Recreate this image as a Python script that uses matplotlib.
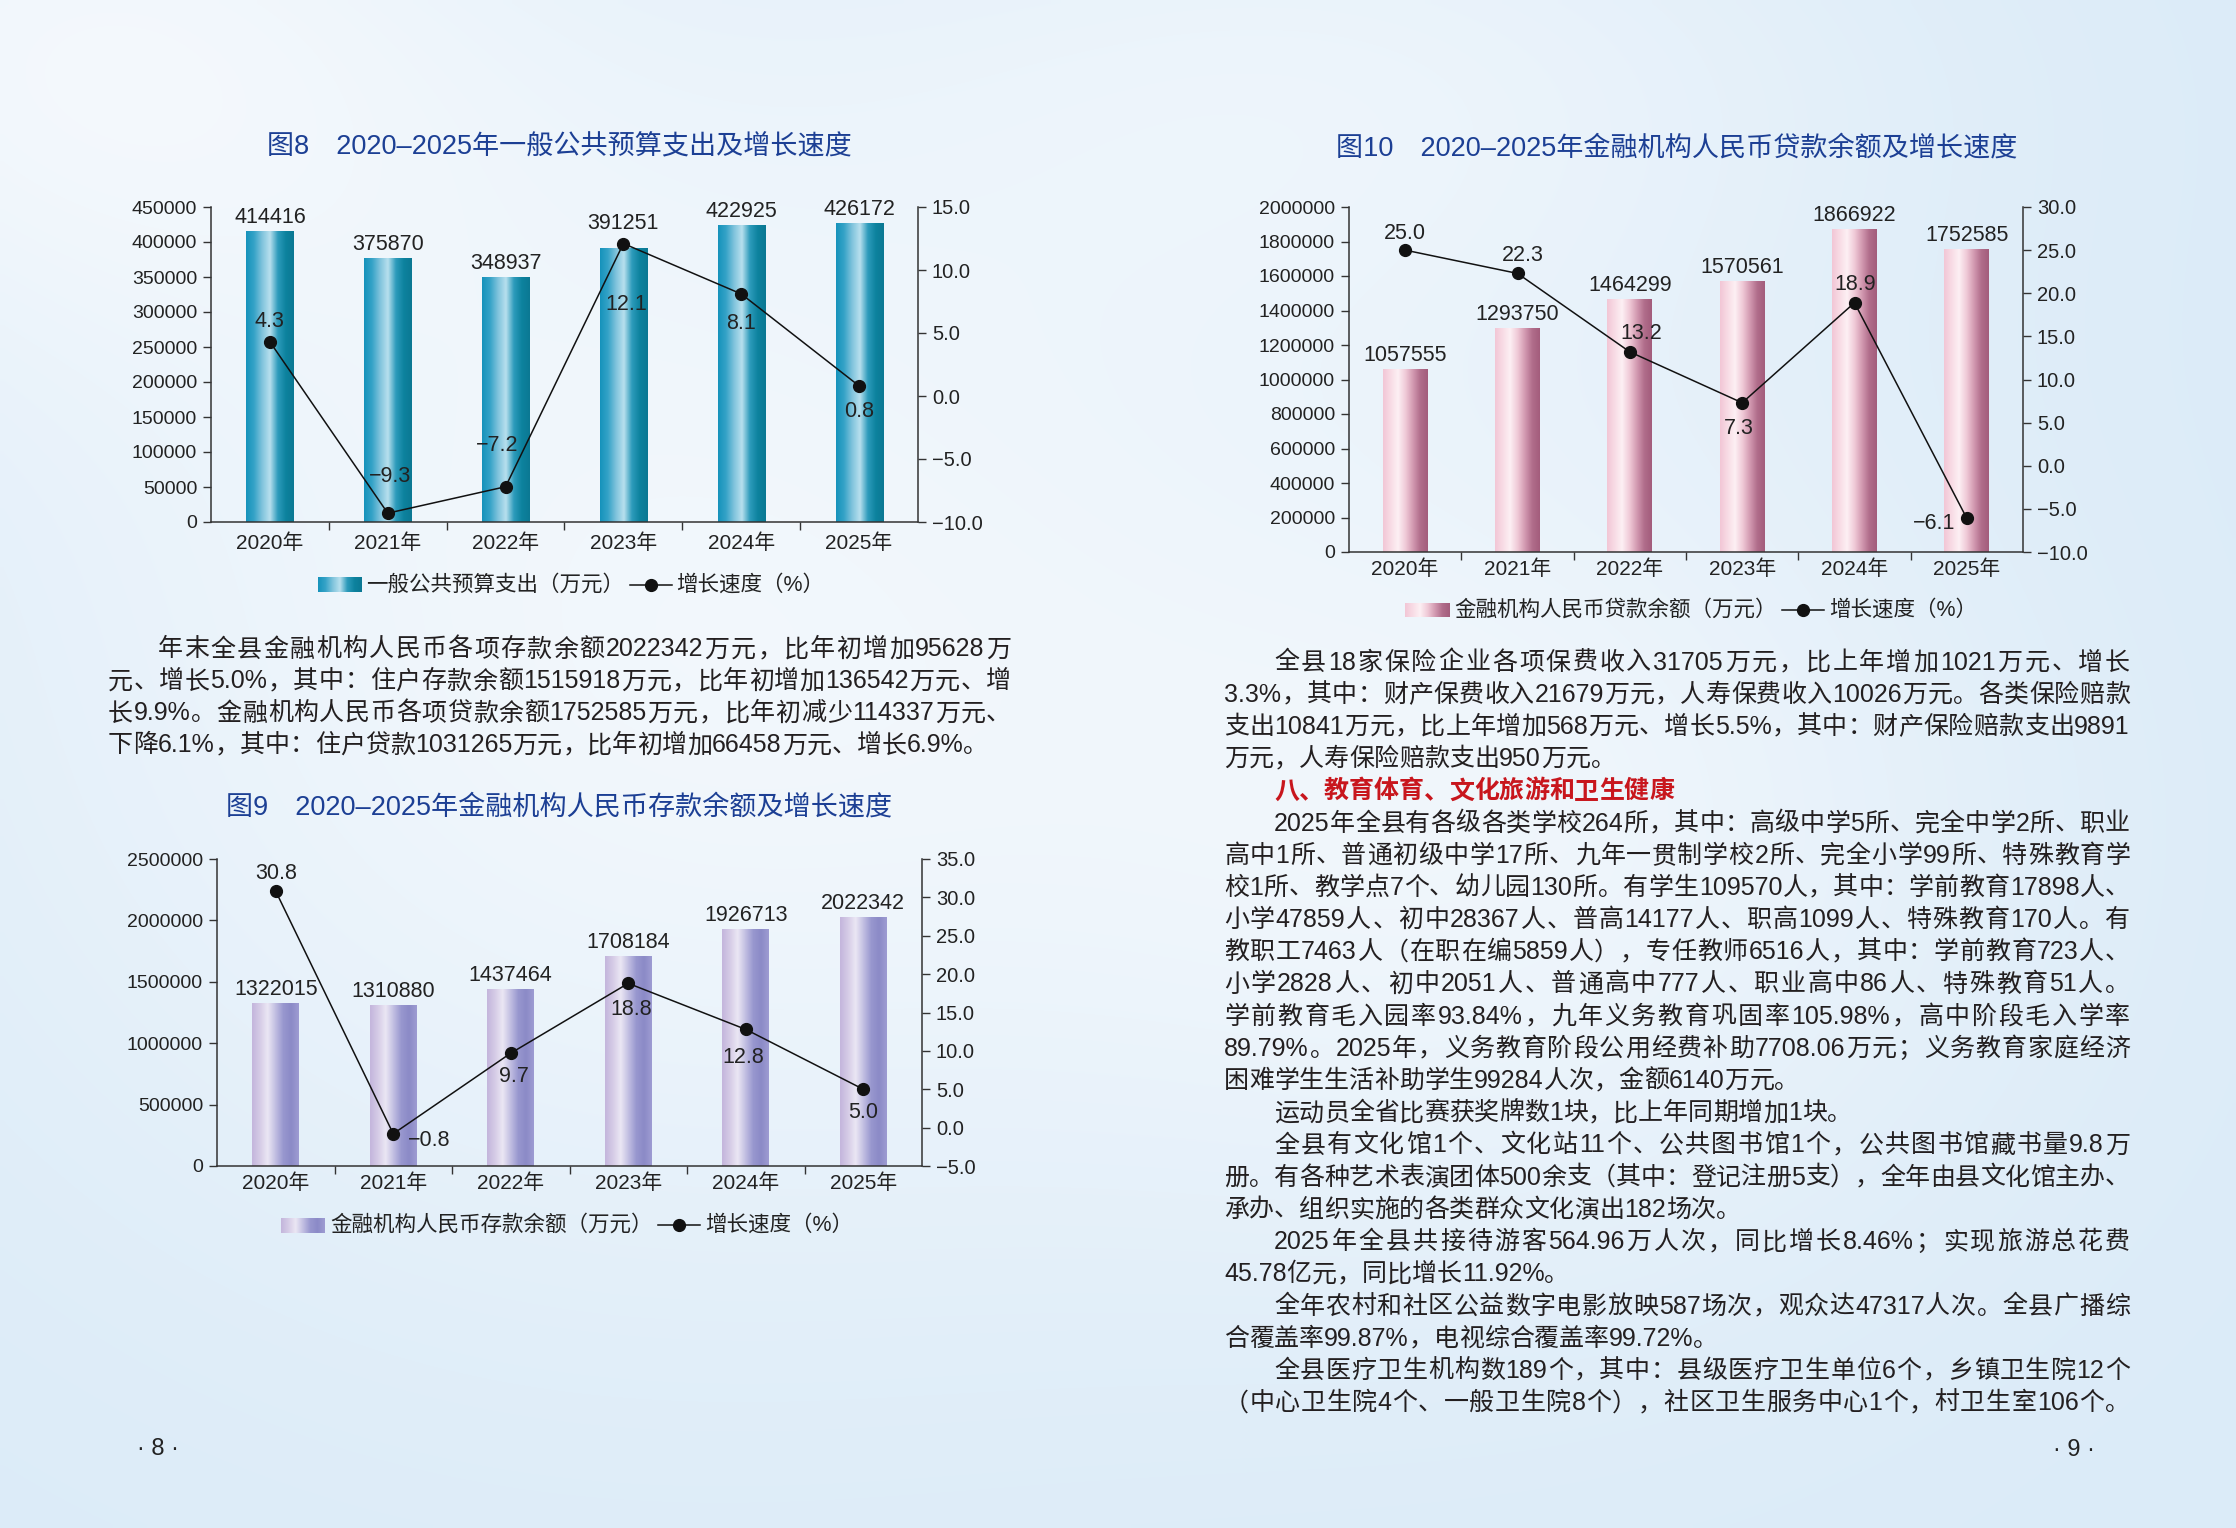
import numpy as np
import matplotlib
matplotlib.use('Agg')
import matplotlib.pyplot as plt
from matplotlib.font_manager import FontProperties
from matplotlib.colors import LinearSegmentedColormap
from matplotlib.lines import Line2D
from matplotlib.ticker import FuncFormatter

FAMILY = ['Liberation Sans', 'Noto Sans CJK SC', 'DejaVu Sans']
plt.rcParams['font.family'] = FAMILY

W, H, DPI = 2236, 1528, 100

# ------------------------------------------------------------------ data
years = ['2020年', '2021年', '2022年', '2023年', '2024年', '2025年']

fig8_title = '图8　2020–2025年一般公共预算支出及增长速度'
fig8_values = [414416, 375870, 348937, 391251, 422925, 426172]
fig8_growth = [4.3, -9.3, -7.2, 12.1, 8.1, 0.8]
fig8_bar_label = '一般公共预算支出（万元）'

fig9_title = '图9　2020–2025年金融机构人民币存款余额及增长速度'
fig9_values = [1322015, 1310880, 1437464, 1708184, 1926713, 2022342]
fig9_growth = [30.8, -0.8, 9.7, 18.8, 12.8, 5.0]
fig9_bar_label = '金融机构人民币存款余额（万元）'

fig10_title = '图10　2020–2025年金融机构人民币贷款余额及增长速度'
fig10_values = [1057555, 1293750, 1464299, 1570561, 1866922, 1752585]
fig10_growth = [25.0, 22.3, 13.2, 7.3, 18.9, -6.1]
fig10_bar_label = '金融机构人民币贷款余额（万元）'

growth_label = '增长速度（%）'

# body text: (text, indent, justify)
left_para = [
    ('年末全县金融机构人民币各项存款余额2022342万元，比年初增加95628万', True, True),
    ('元、增长5.0%，其中：住户存款余额1515918万元，比年初增加136542万元、增', False, True),
    ('长9.9%。金融机构人民币各项贷款余额1752585万元，比年初减少114337万元、', False, True),
    ('下降6.1%，其中：住户贷款1031265万元，比年初增加66458万元、增长6.9%。', False, False),
]
right_para = [
    ('全县18家保险企业各项保费收入31705万元，比上年增加1021万元、增长', True, True),
    ('3.3%，其中：财产保费收入21679万元，人寿保费收入10026万元。各类保险赔款', False, True),
    ('支出10841万元，比上年增加568万元、增长5.5%，其中：财产保险赔款支出9891', False, True),
    ('万元，人寿保险赔款支出950万元。', False, False),
    ('八、教育体育、文化旅游和卫生健康', True, False),
    ('2025年全县有各级各类学校264所，其中：高级中学5所、完全中学2所、职业', True, True),
    ('高中1所、普通初级中学17所、九年一贯制学校2所、完全小学99所、特殊教育学', False, True),
    ('校1所、教学点7个、幼儿园130所。有学生109570人，其中：学前教育17898人、', False, True),
    ('小学47859人、初中28367人、普高14177人、职高1099人、特殊教育170人。有', False, True),
    ('教职工7463人（在职在编5859人），专任教师6516人，其中：学前教育723人、', False, True),
    ('小学2828人、初中2051人、普通高中777人、职业高中86人、特殊教育51人。', False, True),
    ('学前教育毛入园率93.84%，九年义务教育巩固率105.98%，高中阶段毛入学率', False, True),
    ('89.79%。2025年，义务教育阶段公用经费补助7708.06万元；义务教育家庭经济', False, True),
    ('困难学生生活补助学生99284人次，金额6140万元。', False, False),
    ('运动员全省比赛获奖牌数1块，比上年同期增加1块。', True, False),
    ('全县有文化馆1个、文化站11个、公共图书馆1个，公共图书馆藏书量9.8万', True, True),
    ('册。有各种艺术表演团体500余支（其中：登记注册5支），全年由县文化馆主办、', False, True),
    ('承办、组织实施的各类群众文化演出182场次。', False, False),
    ('2025年全县共接待游客564.96万人次，同比增长8.46%；实现旅游总花费', True, True),
    ('45.78亿元，同比增长11.92%。', False, False),
    ('全年农村和社区公益数字电影放映587场次，观众达47317人次。全县广播综', True, True),
    ('合覆盖率99.87%，电视综合覆盖率99.72%。', False, False),
    ('全县医疗卫生机构数189个，其中：县级医疗卫生单位6个，乡镇卫生院12个', True, True),
    ('（中心卫生院4个、一般卫生院8个），社区卫生服务中心1个，村卫生室106个。', False, True),
]
heading_index = 4
page_left = '· 8 ·'
page_right = '· 9 ·'

# ------------------------------------------------------------------ styles
teal_stops = ['#1592bb', '#35a3c7', '#7fc3dc', '#b8e0ee', '#2d9bbb', '#0d829e', '#0b7893']
purple_stops = ['#c3b5dc', '#d5cbe6', '#ebe7f4', '#c2bfe2', '#9897cf', '#8b8ac7', '#9e9cd2']
pink_stops = ['#f2c6d5', '#f8dbe5', '#fdf0f4', '#f0cbd8', '#d39ab1', '#b06d8b', '#a35c7c']

TEXT = '#222222'
AXIS = '#333333'
LABEL_SIZE = 15.5
TICK_SIZE = 14

fig = plt.figure(figsize=(W / DPI, H / DPI), dpi=DPI)
renderer = fig.canvas.get_renderer()

# background
bg = fig.add_axes([0, 0, 1, 1], zorder=-10)
yy, xx = np.mgrid[0:1:220j, 0:1:320j]
base = np.array([219, 235, 248]) / 255.0
white = np.array([247, 250, 253]) / 255.0
g = (0.80 * np.exp(-(((xx - 0.30) / 0.33) ** 2 + ((yy - 0.42) / 0.42) ** 2))
     + 0.55 * np.exp(-(((xx - 0.70) / 0.22) ** 2 + ((yy - 0.55) / 0.30) ** 2))
     + 0.70 * np.exp(-(((xx - 0.02) / 0.22) ** 2 + ((yy - 0.02) / 0.22) ** 2))
     + 0.45 * np.exp(-(((xx - 0.62) / 0.25) ** 2 + ((yy - 0.05) / 0.18) ** 2)))
g = np.clip(g, 0, 1)[..., None]
bg.imshow(base * (1 - g) + white * g, extent=[0, 1, 0, 1], aspect='auto',
          interpolation='bilinear')
bg.axis('off')


def px_rect(x0, y0, x1, y1):
    return [x0 / W, 1 - y1 / H, (x1 - x0) / W, (y1 - y0) / H]


def fmt_signed(v):
    return f'{v:.1f}'.replace('-', '\u2212')


def make_grad(stops):
    cmap = LinearSegmentedColormap.from_list('bar', stops)
    return cmap(np.linspace(0, 1, 256))[None, :, :]


def draw_chart(rect, values, growth, ymax, ystep, y2min, y2max, y2step, stops,
               g_off, v_off, xpad):
    ax = fig.add_axes(px_rect(*rect))
    ax.patch.set_alpha(0)
    xs = np.arange(len(years))
    grad = make_grad(stops)
    bars = ax.bar(xs, values, width=0.4, color='none', edgecolor='none', zorder=2)
    for b in bars:
        ax.imshow(grad, extent=[b.get_x(), b.get_x() + b.get_width(), 0, b.get_height()],
                  aspect='auto', interpolation='bilinear', zorder=2)
    ax.set_xlim(-0.5, len(years) - 0.5)
    ax.set_ylim(0, ymax)
    ax.set_yticks(np.arange(0, ymax + 1, ystep))
    ax.yaxis.set_major_formatter(FuncFormatter(lambda v, p: f'{int(round(v))}'))
    ax.set_xticks(xs)
    ax.set_xticklabels(years)
    ax.set_xticks(xs[:-1] + 0.5, minor=True)
    ax.tick_params(axis='x', which='major', length=0, pad=xpad, labelsize=LABEL_SIZE - 0.5,
                   labelcolor=TEXT)
    ax.tick_params(axis='x', which='minor', length=6, width=1, direction='out', color=AXIS)
    ax.tick_params(axis='y', length=6, width=1, direction='out', color=AXIS,
                   labelsize=TICK_SIZE, labelcolor=TEXT, pad=4)
    for s in ['top', 'right']:
        ax.spines[s].set_visible(False)
    for s in ['left', 'bottom']:
        ax.spines[s].set_color(AXIS)
        ax.spines[s].set_linewidth(1.1)
    for x, v, off in zip(xs, values, v_off):
        ax.annotate(f'{v}', (x, v), xytext=(0, off), textcoords='offset pixels',
                    ha='center', va='center', fontsize=LABEL_SIZE, color=TEXT, zorder=6)
    ax2 = ax.twinx()
    ax2.set_ylim(y2min, y2max)
    ax2.set_yticks(np.arange(y2min, y2max + 0.01, y2step))
    ax2.yaxis.set_major_formatter(FuncFormatter(lambda v, p: fmt_signed(v)))
    ax2.plot(xs, growth, color='#111111', lw=1.1, marker='o', ms=8.5, zorder=5)
    for s in ['top', 'left', 'bottom']:
        ax2.spines[s].set_visible(False)
    ax2.spines['right'].set_color(AXIS)
    ax2.spines['right'].set_linewidth(1.1)
    ax2.tick_params(axis='y', length=6, width=1, direction='out', color=AXIS,
                    labelsize=TICK_SIZE + 0.5, labelcolor=TEXT, pad=4)
    for x, gv, (dx, dy) in zip(xs, growth, g_off):
        ax2.annotate(fmt_signed(gv), (x, gv), xytext=(dx, dy), textcoords='offset pixels',
                     ha='center', va='center', fontsize=LABEL_SIZE, color=TEXT, zorder=7)
    return ax


def tw(s, fp):
    return renderer.get_text_width_height_descent(s, fp, ismath=False)[0]


def draw_title(cx, cy, s):
    fig.text(cx / W, 1 - cy / H, s, ha='center', va='center', fontsize=19.5,
             color='#1c3f94', fontweight='medium')


def draw_legend(cx, cy, stops, label1, label2):
    fp = FontProperties(family=FAMILY, size=LABEL_SIZE)
    sw, sh, ln, gap = 44, 15, 42, 5
    w1, w2 = tw(label1, fp), tw(label2, fp)
    total = sw + gap + w1 + gap + ln + gap + w2
    x = cx - total / 2
    sax = fig.add_axes([x / W, 1 - (cy + sh / 2) / H, sw / W, sh / H])
    sax.imshow(make_grad(stops), aspect='auto', extent=[0, 1, 0, 1], interpolation='bilinear')
    sax.axis('off')
    x += sw + gap
    fig.text(x / W, 1 - cy / H, label1, fontproperties=fp, ha='left', va='center', color=TEXT)
    x += w1 + gap
    yf = 1 - cy / H
    fig.add_artist(Line2D([x / W, (x + ln) / W], [yf, yf], transform=fig.transFigure,
                          color='#111111', lw=1.1))
    fig.add_artist(Line2D([(x + ln / 2) / W], [yf], transform=fig.transFigure,
                          color='#111111', marker='o', ms=8.5, lw=0))
    x += ln + gap
    fig.text(x / W, 1 - cy / H, label2, fontproperties=fp, ha='left', va='center', color=TEXT)


# ------------------------------------------------------------------ charts
draw_title(559, 147, fig8_title)
draw_chart((211, 207, 918, 522), fig8_values, fig8_growth, 450000, 50000, -10, 15, 5,
           teal_stops,
           [(0, 20), (2, 37), (-8, 41), (3, -61), (0, -30), (0, -26)],
           [14, 14, 14, 25, 14, 14], 8)
draw_legend(571, 585, teal_stops, fig8_bar_label, growth_label)

draw_title(559, 807, fig9_title)
draw_chart((217, 859, 922, 1166), fig9_values, fig9_growth, 2500000, 500000, -5, 35, 5,
           purple_stops,
           [(0, 18), (36, -7), (3, -23), (3, -26), (-2, -28), (0, -23)],
           [14, 14, 14, 14, 14, 14], 5)
draw_legend(567, 1225, purple_stops, fig9_bar_label, growth_label)

draw_title(1677, 148, fig10_title)
draw_chart((1349, 207, 2023, 552), fig10_values, fig10_growth, 2000000, 200000, -10, 30, 5,
           pink_stops,
           [(0, 17), (5, 18), (11, 18), (-3, -26), (1, 18), (-33, -5)],
           [14, 14, 14, 14, 14, 14], 5.5)
draw_legend(1691, 610, pink_stops, fig10_bar_label, growth_label)

# ------------------------------------------------------------------ body text
body_fp = FontProperties(family=FAMILY, size=18)
head_fp = FontProperties(family=FAMILY, size=18, weight='bold')
_cache = {}


def tokenize(line):
    toks, buf = [], ''
    for ch in line:
        if ord(ch) < 128:
            buf += ch
        else:
            if buf:
                toks.append(buf)
                buf = ''
            toks.append(ch)
    if buf:
        toks.append(buf)
    return toks


def metrics(tok, fp):
    key = (tok, fp.get_weight())
    if key in _cache:
        return _cache[key]
    em = fp.get_size_in_points() * DPI / 72.0
    w_ref = tw('中', fp)
    rsb_ref = (em - w_ref) / 2
    adv = tw('中' + tok + '中', fp) - tw('中中', fp)
    w_tok = tw(tok, fp)
    right = tw('中' + tok, fp) - w_ref - rsb_ref
    left = right - w_tok
    _cache[key] = (adv, left)
    return adv, left


def draw_paragraph(lines, x_left, x_right, y0, step, special=None):
    for i, (text, indent, justify) in enumerate(lines):
        fp = head_fp if i == special else body_fp
        color = '#c8161d' if i == special else '#231f20'
        em = fp.get_size_in_points() * DPI / 72.0
        start = x_left + (2 * em if indent else 0)
        toks = tokenize(text)
        mets = [metrics(t, fp) for t in toks]
        natural = sum(m[0] for m in mets)
        extra = 0.0
        if justify and len(toks) > 1:
            extra = (x_right - start - natural) / (len(toks) - 1)
        yb = y0 + i * step + 0.38 * em
        x = start
        for t, (adv, left) in zip(toks, mets):
            fig.text((x + left) / W, 1 - yb / H, t, fontproperties=fp, color=color,
                     ha='left', va='baseline')
            x += adv + extra


draw_paragraph(left_para, 108, 1011, 647, 32.0)
draw_paragraph(right_para, 1224, 2130, 660, 32.2, special=heading_index)

fig.text(158 / W, 1 - 1449 / H, page_left, ha='center', va='center', fontsize=17, color=TEXT)
fig.text(2074 / W, 1 - 1450 / H, page_right, ha='center', va='center', fontsize=17, color=TEXT)

fig.savefig('out.png', dpi=DPI)
